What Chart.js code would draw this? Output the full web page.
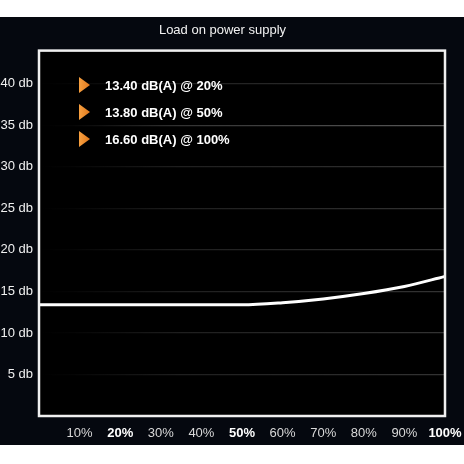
<!DOCTYPE html>
<html>
<head>
<meta charset="utf-8">
<script src="https://cdn.jsdelivr.net/npm/chart.js@4"></script>
<style>
  html, body { margin: 0; padding: 0; background: #fff; }
  canvas { display: block; }
</style>
</head>
<body>
<canvas id="noiseChart" width="464" height="464"></canvas>
<script>
// data
const loadPct = [0, 10, 20, 30, 40, 50, 60, 70, 80, 90, 100];
const noiseDb = [13.4, 13.4, 13.4, 13.4, 13.4, 13.4, 13.65, 14.1, 14.75, 15.6, 16.8];
const xTicks = [10, 20, 30, 40, 50, 60, 70, 80, 90, 100];
const xBold = [20, 50, 100];
const yTicks = [5, 10, 15, 20, 25, 30, 35, 40];
const notes = ['13.40 dB(A) @ 20%', '13.80 dB(A) @ 50%', '16.60 dB(A) @ 100%'];

const FONT = "'Liberation Sans', Arial, Helvetica, sans-serif";
Chart.defaults.font.family = FONT;

const isBold = (c) => !!(c.tick && xBold.includes(c.tick.value));

/* background, frame and the orange notes */
const frame = {
  id: 'frame',
  beforeDraw(chart) {
    const { ctx, chartArea: a } = chart;
    ctx.save();
    ctx.fillStyle = '#05080f';
    ctx.fillRect(0, 17, chart.width, 428);
    ctx.fillStyle = '#000';
    ctx.fillRect(a.left, a.top, a.right - a.left, a.bottom - a.top);
    ctx.restore();
  },
  afterDraw(chart) {
    const { ctx, chartArea: a } = chart;
    ctx.save();
    ctx.strokeStyle = '#f0f0f0';
    ctx.lineWidth = 2.5;
    ctx.strokeRect(a.left, a.top, a.right - a.left, a.bottom - a.top);

    notes.forEach((txt, i) => {
      const y = 85 + i * 27;
      const g = ctx.createLinearGradient(79, 0, 90, 0);
      g.addColorStop(0, '#f7a040');
      g.addColorStop(1, '#e0781c');
      ctx.fillStyle = g;
      ctx.beginPath();
      ctx.moveTo(79, y - 8);
      ctx.lineTo(90, y);
      ctx.lineTo(79, y + 8);
      ctx.closePath();
      ctx.fill();
      ctx.fillStyle = '#fff';
      ctx.font = 'bold 13px ' + FONT;
      ctx.textBaseline = 'middle';
      ctx.fillText(txt, 105, y + 1.5);
    });
    ctx.restore();
  },
};

function gridColor(c) {
  const a = c.chart.chartArea;
  if (!a || !a.right) return 'rgba(255,255,255,0.15)';
  const strong = c.tick && c.tick.value === 35;
  const g = c.chart.ctx.createLinearGradient(a.left, 0, a.right, 0);
  g.addColorStop(0, 'rgba(255,255,255,0)');
  g.addColorStop(0.08, 'rgba(255,255,255,0.02)');
  g.addColorStop(0.35, strong ? 'rgba(255,255,255,0.2)' : 'rgba(255,255,255,0.12)');
  g.addColorStop(1, strong ? 'rgba(255,255,255,0.35)' : 'rgba(255,255,255,0.2)');
  return g;
}

new Chart(document.getElementById('noiseChart'), {
  type: 'line',
  data: {
    datasets: [{
      data: loadPct.map((x, i) => ({ x, y: noiseDb[i] })),
      borderColor: '#ffffff',
      borderWidth: 3,
      pointRadius: 0,
      cubicInterpolationMode: 'monotone',
      fill: false,
    }],
  },
  options: {
    responsive: false,
    animation: false,
    layout: { padding: { top: 17, right: 19, bottom: 0, left: 0 } },
    plugins: {
      legend: { display: false },
      tooltip: { enabled: false },
      title: {
        display: true,
        text: 'Load on power supply',
        color: '#f2f2f2',
        font: { size: 13, weight: 'normal' },
        padding: { top: 6, bottom: 12 },
      },
    },
    scales: {
      x: {
        type: 'linear',
        min: 0,
        max: 100,
        afterBuildTicks: (s) => { s.ticks = xTicks.map(v => ({ value: v })); },
        afterFit: (s) => { s.height = 48; s.paddingLeft = 0; s.paddingRight = 0; },
        grid: { display: false, drawTicks: false },
        border: { display: false },
        ticks: {
          padding: 10,
          maxRotation: 0,
          autoSkip: false,
          color: (c) => isBold(c) ? '#ffffff' : '#d8d8d8',
          font: (c) => ({ size: 13, weight: isBold(c) ? 'bold' : 'normal' }),
          callback: (v) => v + '%',
        },
      },
      y: {
        min: 0,
        max: 44,
        afterBuildTicks: (s) => { s.ticks = yTicks.map(v => ({ value: v })); },
        afterFit: (s) => { s.width = 39; s.paddingTop = 0; s.paddingBottom = 0; },
        grid: { color: gridColor, lineWidth: 1.2, drawTicks: false },
        border: { display: false },
        ticks: {
          padding: 6,
          color: '#f0f0f0',
          font: { size: 13 },
          callback: (v) => v + ' db',
        },
      },
    },
  },
  plugins: [frame],
});
</script>
</body>
</html>
